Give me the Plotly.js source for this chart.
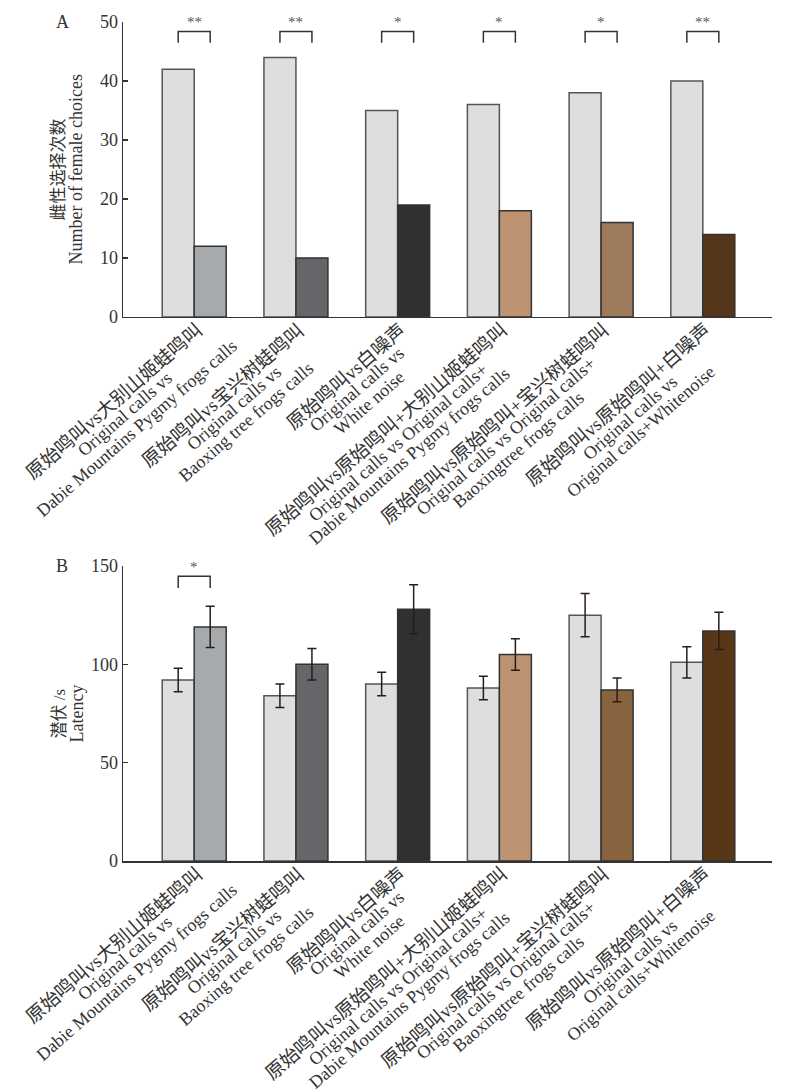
<!DOCTYPE html>
<html>
<head>
<meta charset="utf-8">
<script src="https://cdn.plot.ly/plotly-3.0.1.min.js"></script>
<style>html,body{margin:0;padding:0;background:#fff;}#chart{width:800px;height:1092px;}</style>
</head>
<body>
<div id="chart"></div>
<script>
// ---------- data ----------
const categoriesZh = ['原始鸣叫vs大别山姬蛙鸣叫', '原始鸣叫vs宝兴树蛙鸣叫', '原始鸣叫vs白噪声',
  '原始鸣叫vs原始鸣叫+大别山姬蛙鸣叫', '原始鸣叫vs原始鸣叫+宝兴树蛙鸣叫', '原始鸣叫vs原始鸣叫+白噪声'];
const categoriesEn1 = ['Original calls vs', 'Original calls vs', 'Original calls vs',
  'Original calls vs Original calls+', 'Original calls vs Original calls+', 'Original calls vs'];
const categoriesEn2 = ['Dabie Mountains Pygmy frogs calls', 'Baoxing tree frogs calls', 'White noise',
  'Dabie Mountains Pygmy frogs calls', 'Baoxingtree frogs calls', 'Original calls+Whitenoise'];

const choicesOriginal = [42, 44, 35, 36, 38, 40];
const choicesAlternative = [12, 10, 19, 18, 16, 14];
const sigChoices = ['**', '**', '*', '*', '*', '**'];

const latencyOriginal = [92, 84, 90, 88, 125, 101];
const latencyOriginalErr = [6, 6, 6, 6, 11, 8];
const latencyAlternative = [119, 100, 128, 105, 87, 117];
const latencyAlternativeErr = [10.5, 8, 12.5, 8, 6, 9.5];
const sigLatency = ['*', '', '', '', '', ''];

// ---------- style ----------
const colorOriginal = '#dedede';
const colorsAltA = ['#a7aaad', '#656669', '#303030', '#bd9371', '#9e7a5c', '#56361a'];
const colorsAltB = ['#a7aaad', '#656669', '#303030', '#bd9371', '#87643f', '#583719'];
const serif = 'Liberation Serif, Times New Roman, serif';
const serifCJK = 'Liberation Serif, Noto Sans CJK SC, serif';
const textColor = '#333';
const bargap = 0.371;
const halfBar = (1 - bargap) / 4; // centre offset of each bar in a group

const xIdx = categoriesZh.map((c, i) => i);

function barTrace(y, color, lineColor, xa, ya, err) {
  const t = {
    type: 'bar', x: xIdx, y: y, xaxis: xa, yaxis: ya,
    marker: {color: color, line: {color: lineColor, width: 1.5}},
    hoverinfo: 'skip'
  };
  if (err) t.error_y = {type: 'data', array: err, visible: true, color: '#2b1d14', thickness: 1.5, width: 4.5};
  return t;
}

const traces = [
  barTrace(choicesOriginal, colorOriginal, '#555', 'x', 'y'),
  barTrace(choicesAlternative, colorsAltA, '#333', 'x', 'y'),
  barTrace(latencyOriginal, colorOriginal, '#555', 'x2', 'y2', latencyOriginalErr),
  barTrace(latencyAlternative, colorsAltB, '#333', 'x2', 'y2', latencyAlternativeErr)
];

// ---------- annotations & shapes ----------
const annotations = [];
const shapes = [];

function addBrackets(sig, xref, yref, yTop, yLeg) {
  sig.forEach((s, i) => {
    if (!s) return;
    shapes.push({type: 'path', xref: xref, yref: yref,
      path: `M ${i - halfBar},${yLeg} L ${i - halfBar},${yTop} L ${i + halfBar},${yTop} L ${i + halfBar},${yLeg}`,
      line: {color: '#333', width: 1.5}});
    annotations.push({xref: xref, yref: yref, x: i, y: yTop, yanchor: 'bottom', xanchor: 'center',
      text: s, showarrow: false, yshift: -1, font: {family: serif, size: 15, color: '#555'}});
  });
}
addBrackets(sigChoices, 'x', 'y', 48.4, 46.5);
addBrackets(sigLatency, 'x2', 'y2', 144.8, 138.8);

// rotated, centred three-line category labels
const ang = 41 * Math.PI / 180;
const ux = Math.cos(ang), uy = -Math.sin(ang);   // along text (screen, y down)
const nx = Math.sin(ang), ny = Math.cos(ang);    // normal (down-right)
const ctx = document.createElement('canvas').getContext('2d');
const zhSize = 19, enSize = 18;
ctx.font = zhSize + "px 'Liberation Serif', 'Noto Sans CJK SC'";
const normals = [11, 28, 46];

function addLabels(xref, domRef) {
  categoriesZh.forEach((zh, i) => {
    const w1 = ctx.measureText(zh).width;
    const a = -w1 / 2 - 3;
    const lines = [[zh, zhSize, serifCJK], [categoriesEn1[i], enSize, serif], [categoriesEn2[i], enSize, serif]];
    lines.forEach((ln, k) => {
      const b = normals[k];
      const dx = a * ux + b * nx;
      const dy = a * uy + b * ny;
      annotations.push({xref: xref, yref: domRef, x: i, y: 0, xanchor: 'center', yanchor: 'middle',
        xshift: dx, yshift: -dy, textangle: -41, text: ln[0], showarrow: false,
        font: {family: ln[2], size: ln[1], color: textColor}});
    });
  });
}
addLabels('x', 'y domain');
addLabels('x2', 'y2 domain');

function addYTitle(yref, zh, en, xZh, xEn) {
  annotations.push({xref: 'paper', yref: yref, x: 0, y: 0.5, xanchor: 'center', yanchor: 'middle',
    xshift: xZh - 123, textangle: -90, text: zh, showarrow: false, font: {family: serifCJK, size: 17, color: textColor}});
  annotations.push({xref: 'paper', yref: yref, x: 0, y: 0.5, xanchor: 'center', yanchor: 'middle',
    xshift: xEn - 123, textangle: -90, text: en, showarrow: false, font: {family: serif, size: 18, color: textColor}});
}
addYTitle('y domain', '雌性选择次数', 'Number of female choices', 58, 76);
addYTitle('y2 domain', '潜伏 /s', 'Latency', 60, 77);

annotations.push({xref: 'paper', yref: 'y domain', x: 0, y: 1, xanchor: 'center', yanchor: 'middle',
  xshift: 62 - 123, yshift: 0, text: 'A', showarrow: false, font: {family: serif, size: 18, color: textColor}});
annotations.push({xref: 'paper', yref: 'y2 domain', x: 0, y: 1, xanchor: 'center', yanchor: 'middle',
  xshift: 62 - 123, yshift: 0, text: 'B', showarrow: false, font: {family: serif, size: 18, color: textColor}});

// ---------- layout ----------
const xRange = [-0.7, 5.68];
function xAxis(anchor) {
  return {domain: [0, 1], anchor: anchor, range: xRange, showline: true, linecolor: '#333', linewidth: 1.5,
    ticks: '', showticklabels: false, showgrid: false, zeroline: false, fixedrange: true};
}
function yAxis(anchor, domain, range, dtick) {
  return {domain: domain, anchor: anchor, range: range, dtick: dtick, tick0: 0, ticks: 'inside', ticklen: 5,
    tickwidth: 1.5, tickcolor: '#333', showline: true, linecolor: '#333', linewidth: 1.5,
    tickfont: {family: serif, size: 18, color: textColor}, showgrid: false, zeroline: false, fixedrange: true};
}

const layout = {
  width: 800, height: 1092,
  margin: {l: 123, r: 28, t: 22, b: 231},
  paper_bgcolor: '#fff', plot_bgcolor: '#fff',
  showlegend: false, barmode: 'group', bargap: bargap, bargroupgap: 0,
  xaxis: xAxis('y'), yaxis: yAxis('x', [0.6484, 1], [0, 50], 10),
  xaxis2: xAxis('y2'), yaxis2: yAxis('x2', [0, 0.3516], [0, 150], 50),
  annotations: annotations, shapes: shapes
};

Plotly.newPlot('chart', traces, layout, {staticPlot: true, displayModeBar: false});
</script>
</body>
</html>
